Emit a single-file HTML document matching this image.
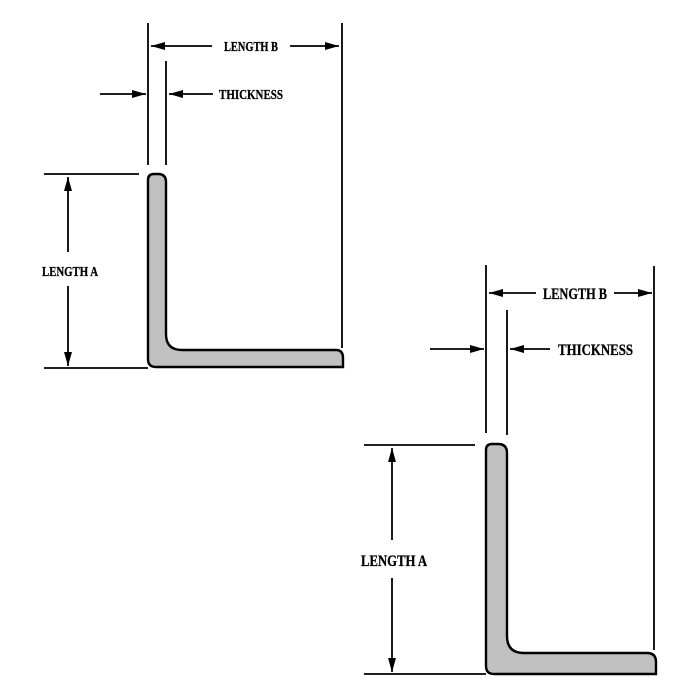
<!DOCTYPE html>
<html><head><style>html,body{margin:0;padding:0;background:#fff;}svg{display:block}</style></head>
<body>
<svg width="700" height="700" viewBox="0 0 700 700" xmlns="http://www.w3.org/2000/svg">
<defs>
<marker id="ah" viewBox="0 0 10 10" refX="10" refY="5" markerWidth="14" markerHeight="8" markerUnits="userSpaceOnUse" orient="auto-start-reverse" preserveAspectRatio="none">
<path d="M0,0 L10,5 L0,10 z" fill="#000"/></marker>
</defs>
<g stroke="#000" stroke-width="1.8" fill="none">
<!-- Diagram 1 -->
<line x1="148" y1="23" x2="148" y2="165"/>
<line x1="166" y1="61" x2="166" y2="165"/>
<line x1="342" y1="23" x2="342" y2="348"/>
<line x1="44" y1="174" x2="139" y2="174"/>
<line x1="44" y1="368" x2="148" y2="368"/>
<line x1="212" y1="46" x2="151" y2="46" marker-end="url(#ah)"/>
<line x1="290" y1="46" x2="339" y2="46" marker-end="url(#ah)"/>
<line x1="100" y1="94" x2="146" y2="94" marker-end="url(#ah)"/>
<line x1="213" y1="94" x2="169" y2="94" marker-end="url(#ah)"/>
<line x1="68" y1="252" x2="68" y2="177" marker-end="url(#ah)"/>
<line x1="68" y1="286" x2="68" y2="366" marker-end="url(#ah)"/>
<path d="M148,180 Q148,174 154,174 L158,174 Q166,174 166,182 L166,334 Q166,350 182,350 L336,350 Q343,350 343,358 L343,367 L156,367 Q148,367 148,359 Z" fill="#c0c0c0" stroke-width="2.4"/>
<!-- Diagram 2 -->
<line x1="486" y1="265" x2="486" y2="433"/>
<line x1="507" y1="310" x2="507" y2="435"/>
<line x1="654" y1="266" x2="654" y2="650"/>
<line x1="364" y1="445" x2="475" y2="445"/>
<line x1="364" y1="674" x2="486" y2="674"/>
<line x1="536" y1="293" x2="489" y2="293" marker-end="url(#ah)"/>
<line x1="614" y1="293" x2="652" y2="293" marker-end="url(#ah)"/>
<line x1="430" y1="349" x2="484" y2="349" marker-end="url(#ah)"/>
<line x1="550" y1="349" x2="510" y2="349" marker-end="url(#ah)"/>
<line x1="392" y1="540" x2="392" y2="448" marker-end="url(#ah)"/>
<line x1="392" y1="578" x2="392" y2="672" marker-end="url(#ah)"/>
<path d="M486,450 Q486,444 492,444 L498,444 Q507,444 507,453 L507,636 Q507,653 524,653 L647,653 Q656,653 656,662 L656,674 L494,674 Q486,674 486,666 Z" fill="#c0c0c0" stroke-width="2.4"/>
</g>
<g font-family="Liberation Serif, serif" font-weight="bold" font-size="14" fill="#000" stroke="#000" stroke-width="0.3">
<text x="224" y="51" textLength="54" lengthAdjust="spacingAndGlyphs">LENGTH B</text>
<text x="219" y="99" textLength="64" lengthAdjust="spacingAndGlyphs">THICKNESS</text>
<text x="42" y="276" textLength="56" lengthAdjust="spacingAndGlyphs">LENGTH A</text>
</g>
<g font-family="Liberation Serif, serif" font-weight="bold" font-size="16" fill="#000" stroke="#000" stroke-width="0.3">
<text x="543" y="299" textLength="64" lengthAdjust="spacingAndGlyphs">LENGTH B</text>
<text x="558" y="355" textLength="75" lengthAdjust="spacingAndGlyphs">THICKNESS</text>
<text x="361" y="566" textLength="66" lengthAdjust="spacingAndGlyphs">LENGTH A</text>
</g>
</svg>
</body></html>
